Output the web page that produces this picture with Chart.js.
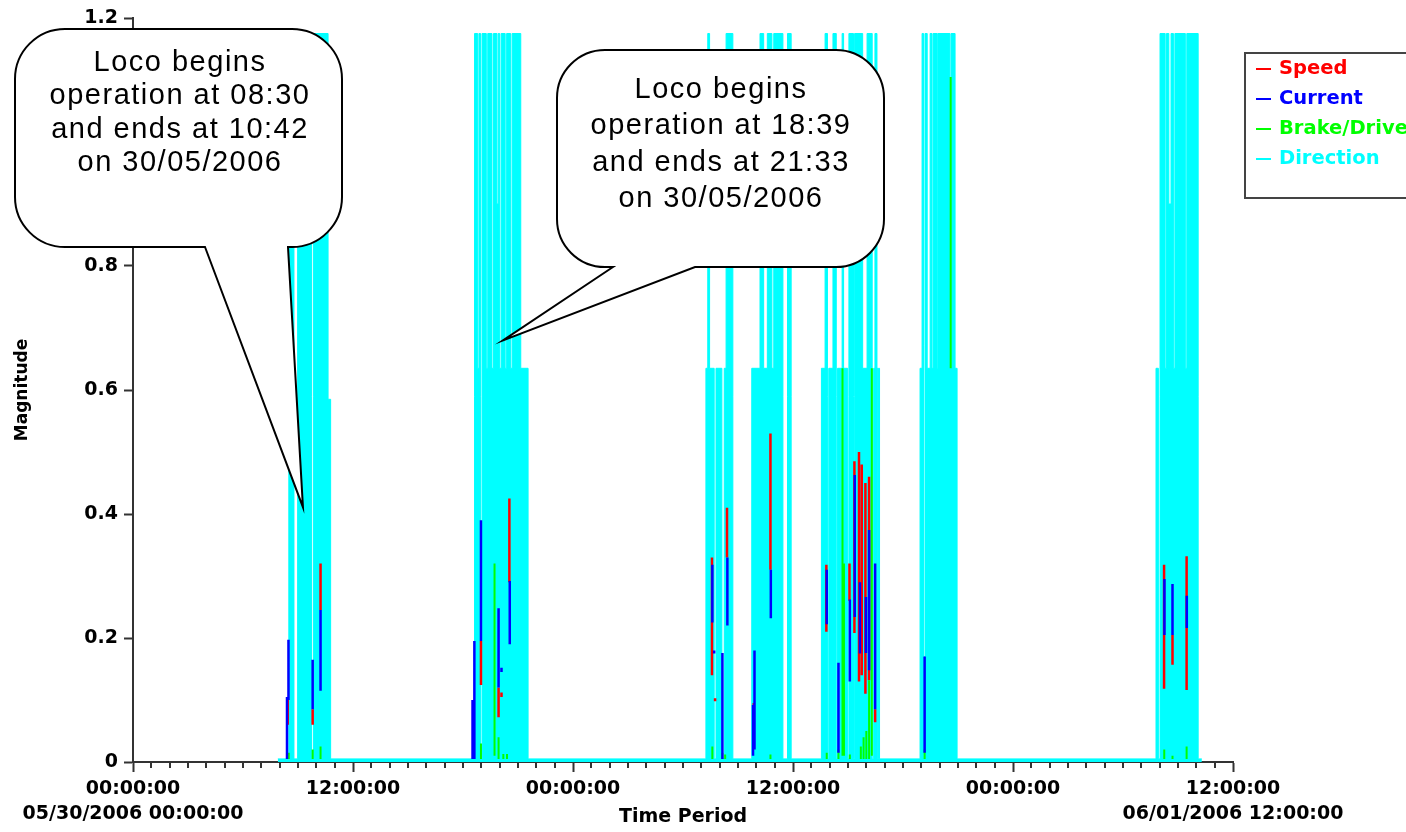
<!DOCTYPE html>
<html>
<head>
<meta charset="utf-8">
<script src="https://cdn.jsdelivr.net/npm/chart.js@4.4.0/dist/chart.umd.min.js"></script>
<style>
  html, body { margin: 0; padding: 0; background: #fff; }
</style>
</head>
<body>
<canvas id="chart" width="1406" height="832"></canvas>
<script>
// x values are hours since 05/30/2006 00:00:00
const tickHours = [0, 12, 24, 36, 48, 60];
const tickTimes = ['00:00:00', '12:00:00', '00:00:00', '12:00:00', '00:00:00', '12:00:00'];
const tickDates = ['05/30/2006 00:00:00', '', '', '', '', '06/01/2006 12:00:00'];
const yTicks = [0, 0.2, 0.4, 0.6, 0.8, 1.0, 1.2];

// Direction: [hour, level] - level holds until the next entry
const direction = [
  [7.9, 0.005], [8.5, 1.175], [8.78, 0.005], [8.98, 1.175], [9.74, 0.005], [9.84, 1.175], [10.64, 0.585], [10.78, 0.005],
  [18.63, 1.175], [18.8, 0.635], [18.87, 1.175], [18.96, 0.005], [19.04, 1.175], [19.27, 0.635], [19.35, 1.175],
  [19.58, 0.635], [19.66, 1.175], [19.85, 0.9], [19.92, 1.175], [20.0, 0.635], [20.08, 1.175], [20.3, 0.635],
  [20.38, 1.175], [20.6, 0.635], [20.68, 1.175], [21.15, 0.635], [21.55, 0.005],
  [31.25, 0.635], [31.35, 1.175], [31.45, 0.635], [31.7, 0.005], [31.8, 0.635], [32.12, 0.005], [32.25, 0.635],
  [32.35, 1.175], [32.72, 0.005],
  [33.75, 0.635], [34.2, 1.175], [34.4, 0.635], [34.6, 1.175], [34.85, 0.635], [34.95, 1.175], [35.45, 0.005],
  [35.7, 1.175], [35.9, 0.005],
  [37.55, 0.635], [37.75, 1.175], [37.88, 0.005], [37.95, 0.635], [38.18, 1.175], [38.36, 0.005], [38.43, 0.635],
  [38.68, 1.175], [38.76, 0.635], [38.98, 0.005], [39.05, 1.175], [39.3, 0.005], [39.36, 1.175], [39.8, 0.635],
  [40.04, 1.175], [40.32, 0.005], [40.4, 0.635], [40.47, 1.175], [40.58, 0.635], [40.62, 0.005], [40.66, 0.635],
  [40.72, 0.005],
  [42.93, 0.635], [43.04, 1.175], [43.12, 0.17], [43.2, 1.175], [43.32, 0.635], [43.48, 1.175], [43.58, 0.635],
  [43.64, 1.175], [43.86, 0.635], [43.9, 1.175], [44.56, 0.635], [44.62, 1.175], [44.84, 0.635], [44.95, 0.005],
  [55.8, 0.635], [55.93, 0.005], [56.02, 1.175], [56.3, 0.635], [56.37, 1.175], [56.5, 0.9], [56.62, 1.175],
  [56.75, 0.635], [56.83, 1.175], [57.4, 0.635], [57.48, 1.175], [58.1, 0.005], [58.3, 0.005]
];

// spikes: [hour, low, high]
const speed = [
  [8.44, 0.06, 0.105], [9.8, 0.06, 0.085], [10.23, 0.245, 0.32],
  [18.98, 0.124, 0.195], [19.94, 0.072, 0.12], [20.1, 0.105, 0.112], [20.53, 0.29, 0.425],
  [31.58, 0.14, 0.33], [31.75, 0.098, 0.103], [32.4, 0.33, 0.41],
  [33.86, 0.056, 0.095], [34.77, 0.31, 0.53],
  [37.82, 0.21, 0.318], [39.08, 0.26, 0.32], [39.35, 0.208, 0.485], [39.6, 0.13, 0.5], [39.75, 0.14, 0.48],
  [39.95, 0.11, 0.45], [40.15, 0.132, 0.46], [40.48, 0.064, 0.085],
  [56.24, 0.118, 0.318], [56.7, 0.157, 0.205], [57.47, 0.116, 0.332]
];
const current = [
  [8.4, 0.005, 0.105], [8.48, 0.1, 0.197], [9.8, 0.085, 0.165], [10.23, 0.115, 0.245],
  [18.52, 0.005, 0.1], [18.62, 0.005, 0.195], [18.98, 0.195, 0.39], [19.94, 0.12, 0.248], [20.1, 0.145, 0.152],
  [20.55, 0.19, 0.292],
  [31.6, 0.225, 0.318], [31.7, 0.175, 0.18], [32.15, 0.005, 0.176], [32.42, 0.22, 0.33],
  [33.82, 0.01, 0.092], [33.9, 0.02, 0.18], [34.79, 0.232, 0.31],
  [37.84, 0.222, 0.31], [38.48, 0.015, 0.16], [39.1, 0.13, 0.262], [39.37, 0.234, 0.463], [39.65, 0.175, 0.29],
  [39.98, 0.176, 0.266], [40.15, 0.148, 0.374], [40.48, 0.085, 0.32],
  [43.18, 0.015, 0.17],
  [56.26, 0.205, 0.295], [56.7, 0.205, 0.287], [57.48, 0.216, 0.268]
];
const brakeDrive = [
  [8.5, 0.005, 0.015], [9.8, 0.005, 0.02], [10.23, 0.005, 0.025],
  [18.98, 0.005, 0.03], [19.72, 0.01, 0.32], [19.94, 0.005, 0.04], [20.2, 0.005, 0.013], [20.4, 0.005, 0.013],
  [31.6, 0.005, 0.025], [32.15, 0.005, 0.015], [32.3, 0.005, 0.012],
  [34.77, 0.005, 0.012],
  [37.84, 0.005, 0.015], [38.48, 0.005, 0.02], [38.7, 0.01, 0.635], [38.78, 0.01, 0.32], [39.1, 0.005, 0.012],
  [39.7, 0.005, 0.025], [39.85, 0.005, 0.04], [40.0, 0.005, 0.05], [40.15, 0.005, 0.132], [40.3, 0.01, 0.635],
  [43.18, 0.005, 0.02], [44.6, 0.635, 1.105],
  [56.25, 0.005, 0.02], [56.7, 0.005, 0.01], [57.47, 0.005, 0.025]
];

const spikesToPoints = arr => arr.flatMap(([h, lo, hi]) => [{x: h, y: lo}, {x: h, y: hi}, {x: h, y: null}]);

const callouts = [
  { l: 15, t: 29, r: 342, b: 247, rad: 50, baseL: 205, baseR: 288, tip: [9.27, 0.411],
    cx: 180, y0: 63, gap: 33.3,
    lines: ['Loco begins', 'operation at 08:30', 'and ends at 10:42', 'on 30/05/2006'] },
  { l: 557, t: 50, r: 884, b: 267, rad: 48, baseL: 613, baseR: 695, tip: [20.18, 0.68],
    cx: 721, y0: 90, gap: 36.3,
    lines: ['Loco begins', 'operation at 18:39', 'and ends at 21:33', 'on 30/05/2006'] }
];

const minorTicks = {
  id: 'minorTicks',
  afterDraw(chart) {
    const sx = chart.scales.x, ctx = chart.ctx;
    ctx.save();
    ctx.strokeStyle = '#333';
    ctx.lineWidth = 2;
    for (let h = sx.min; h <= sx.max; h++) {
      if (tickHours.includes(h)) continue;
      const px = Math.round(sx.getPixelForValue(h));
      ctx.beginPath(); ctx.moveTo(px, sx.top); ctx.lineTo(px, sx.top + 6); ctx.stroke();
    }
    ctx.restore();
  }
};

const boxLegend = {
  id: 'boxLegend',
  afterDraw(chart) {
    const ctx = chart.ctx;
    ctx.save();
    ctx.lineWidth = 2;
    ctx.strokeStyle = '#444';
    ctx.strokeRect(1245, 53, 220, 145);
    ctx.font = 'bold 19.5px "DejaVu Sans"';
    ctx.textBaseline = 'middle';
    chart.data.datasets.forEach((ds, i) => {
      const y = 69 + i * 30;
      ctx.strokeStyle = ds.borderColor;
      ctx.lineWidth = 2;
      ctx.beginPath(); ctx.moveTo(1256, y); ctx.lineTo(1271, y); ctx.stroke();
      ctx.fillStyle = ds.borderColor;
      ctx.fillText(ds.label, 1279, y);
    });
    ctx.restore();
  }
};

const calloutPlugin = {
  id: 'callouts',
  afterDraw(chart) {
    const ctx = chart.ctx, sx = chart.scales.x, sy = chart.scales.y;
    callouts.forEach(c => {
      const tx = sx.getPixelForValue(c.tip[0]), ty = sy.getPixelForValue(c.tip[1]);
      ctx.save();
      ctx.beginPath();
      ctx.moveTo(c.baseL, c.b);
      ctx.lineTo(tx, ty);
      ctx.lineTo(c.baseR, c.b);
      ctx.lineTo(c.r - c.rad, c.b);
      ctx.arcTo(c.r, c.b, c.r, c.b - c.rad, c.rad);
      ctx.lineTo(c.r, c.t + c.rad);
      ctx.arcTo(c.r, c.t, c.r - c.rad, c.t, c.rad);
      ctx.lineTo(c.l + c.rad, c.t);
      ctx.arcTo(c.l, c.t, c.l, c.t + c.rad, c.rad);
      ctx.lineTo(c.l, c.b - c.rad);
      ctx.arcTo(c.l, c.b, c.l + c.rad, c.b, c.rad);
      ctx.closePath();
      ctx.fillStyle = '#fff';
      ctx.fill();
      ctx.lineWidth = 2;
      ctx.strokeStyle = '#000';
      ctx.stroke();
      ctx.fillStyle = '#000';
      ctx.font = '29px "Liberation Sans", Arial, sans-serif';
      ctx.letterSpacing = '1.5px';
      ctx.textAlign = 'center';
      ctx.textBaseline = 'middle';
      c.lines.forEach((s, i) => ctx.fillText(s, c.cx, c.y0 + i * c.gap));
      ctx.restore();
    });
  }
};

const tickFont = { family: 'DejaVu Sans', weight: 'bold', size: 19, lineHeight: 1.3 };

new Chart(document.getElementById('chart'), {
  type: 'line',
  data: {
    datasets: [
      { label: 'Speed', data: spikesToPoints(speed), borderColor: '#ff0000', borderWidth: 2.5, order: 2 },
      { label: 'Current', data: spikesToPoints(current), borderColor: '#0000ff', borderWidth: 2.5, order: 0 },
      { label: 'Brake/Drive', data: spikesToPoints(brakeDrive), borderColor: '#00ff00', borderWidth: 2, order: 1 },
      { label: 'Direction', data: direction.map(([h, v]) => ({x: h, y: v})), borderColor: '#00ffff',
        backgroundColor: '#00ffff', borderWidth: 1, stepped: 'before', fill: 'origin', order: 3 }
    ]
  },
  options: {
    responsive: false,
    animation: false,
    devicePixelRatio: 1,
    events: [],
    spanGaps: false,
    elements: { point: { radius: 0 }, line: { tension: 0, borderCapStyle: 'butt' } },
    layout: { padding: { left: 0, top: 18, right: 173, bottom: 0 } },
    plugins: { legend: { display: false }, tooltip: { enabled: false } },
    scales: {
      x: {
        type: 'linear', min: 0, max: 60,
        afterFit: s => { s.height = 70; },
        afterBuildTicks: s => { s.ticks = tickHours.map(v => ({value: v})); },
        ticks: {
          autoSkip: false, maxRotation: 0, padding: 5, color: '#000', font: tickFont,
          callback: v => {
            const i = tickHours.indexOf(v);
            return tickDates[i] ? [tickTimes[i], tickDates[i]] : tickTimes[i];
          }
        },
        grid: { drawOnChartArea: false, tickLength: 10, tickWidth: 2, tickColor: '#333' },
        border: { display: true, color: '#333', width: 2 },
        title: { display: true, text: 'Time Period', color: '#000', font: { family: 'DejaVu Sans', weight: 'bold', size: 19 },
          padding: { top: 0, bottom: 4 } }
      },
      y: {
        min: 0, max: 1.2,
        afterFit: s => { s.width = 133; },
        afterBuildTicks: s => { s.ticks = yTicks.map(v => ({value: v})); },
        ticks: { padding: 6, color: '#000', font: { family: 'DejaVu Sans', weight: 'bold', size: 19 },
          callback: v => v === 0 ? '0' : v.toFixed(1) },
        grid: { drawOnChartArea: false, tickLength: 9, tickWidth: 2, tickColor: '#333' },
        border: { display: true, color: '#333', width: 2 },
        title: { display: true, text: 'Magnitude', color: '#000', font: { family: 'DejaVu Sans', weight: 'bold', size: 17 },
          padding: { top: 12, bottom: 0 } }
      }
    }
  },
  plugins: [minorTicks, boxLegend, calloutPlugin]
});
</script>
</body>
</html>
